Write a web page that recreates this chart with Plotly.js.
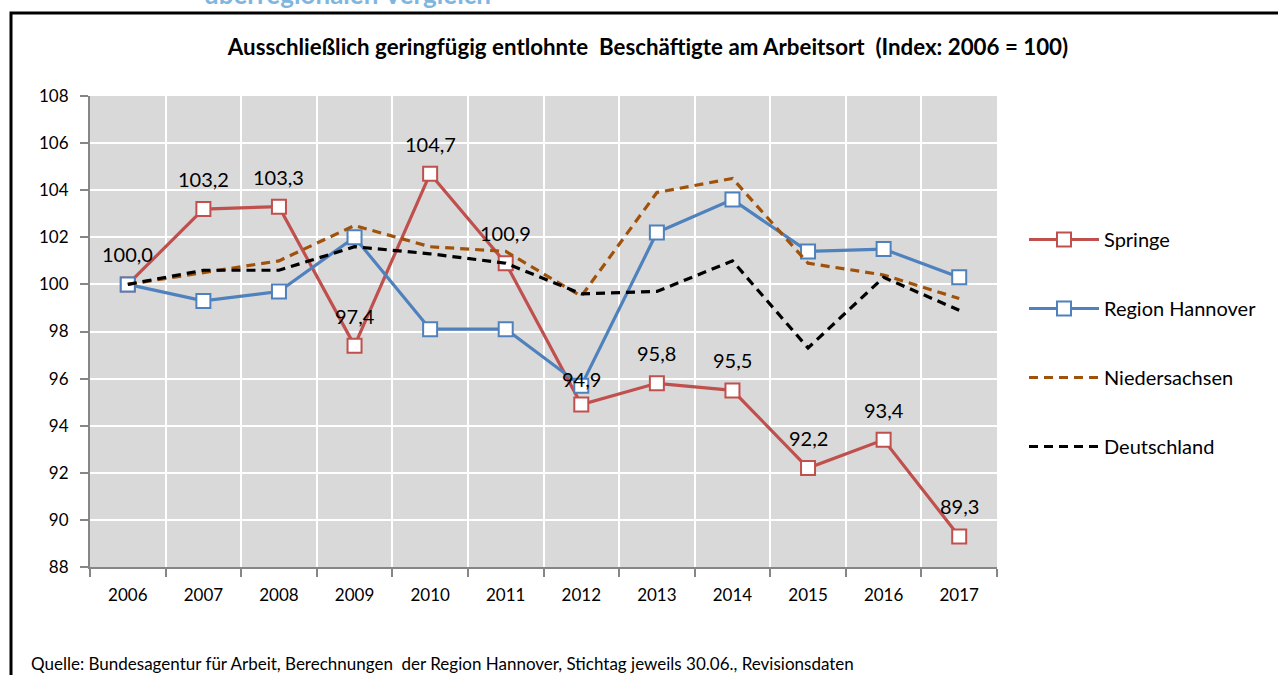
<!DOCTYPE html>
<html>
<head>
<meta charset="utf-8">
<script src="https://cdn.plot.ly/plotly-3.0.1.min.js"></script>
<style>html,body{margin:0;padding:0;background:#fff;}#chart{width:1278px;height:675px;}</style>
</head>
<body>
<div id="chart"></div>
<script>
// ---- data ----
const years = ["2006","2007","2008","2009","2010","2011","2012","2013","2014","2015","2016","2017"];
const springe = [100.0, 103.2, 103.3, 97.4, 104.7, 100.9, 94.9, 95.8, 95.5, 92.2, 93.4, 89.3];
const regionHannover = [100.0, 99.3, 99.7, 102.0, 98.1, 98.1, 95.7, 102.2, 103.6, 101.4, 101.5, 100.3];
const niedersachsen = [100.0, 100.5, 101.0, 102.5, 101.6, 101.4, 99.5, 103.9, 104.5, 100.9, 100.4, 99.4];
const deutschland = [100.0, 100.6, 100.6, 101.6, 101.3, 100.9, 99.6, 99.7, 101.0, 97.3, 100.3, 98.9];
const seriesNames = ["Springe", "Region Hannover", "Niedersachsen", "Deutschland"];
const titleText = "Ausschließlich geringfügig entlohnte  Beschäftigte am Arbeitsort  (Index: 2006 = 100)";
const sourceText = "Quelle: Bundesagentur für Arbeit, Berechnungen  der Region Hannover, Stichtag jeweils 30.06., Revisionsdaten";
const topCutText = "überregionalen Vergleich";

// ---- layout helpers ----
const W = 1278, H = 675;
const L = 90, R = 997, T = 96, B = 567;
const pw = R - L, ph = B - T;
const px = x => (x - L) / pw;
const py = y => (B - y) / ph;
const FONT = "Lato, 'Open Sans', sans-serif";

const fmt = v => v.toFixed(1).replace(".", ",");

function lineTrace(name, y, color, dash, markers, group) {
  const t = {
    type: "scatter",
    mode: markers ? "lines+markers" : "lines",
    name: name,
    x: years,
    y: y,
    legendgroup: group,
    line: {color: color, width: 3.2, dash: dash},
    hoverinfo: "x+y"
  };
  if (markers) {
    t.marker = {symbol: "square", size: 14, color: "#ffffff", line: {color: color, width: 2}};
  }
  return t;
}

const traces = [
  lineTrace(seriesNames[0], springe, "#c0504d", "solid", true, "g1"),
  lineTrace(seriesNames[1], regionHannover, "#4f81bd", "solid", true, "g2"),
  lineTrace(seriesNames[2], niedersachsen, "#a0520a", "9px,6px", false, "g3"),
  lineTrace(seriesNames[3], deutschland, "#000000", "9px,6px", false, "g4")
];

// data labels for Springe, positioned by the category index on the x axis
const labelAnnotations = springe.map((v, i) => ({
  x: i, y: v, xref: "x", yref: "y",
  text: fmt(v), showarrow: false,
  xanchor: "center", yanchor: "middle",
  yshift: (i === 6 ? 26 : 30),
  font: {family: FONT, size: 20, color: "#000"}
}));

const layout = {
  width: W, height: H,
  margin: {l: L, r: W - R, t: T, b: H - B, pad: 0},
  paper_bgcolor: "#ffffff",
  plot_bgcolor: "#d9d9d9",
  font: {family: FONT, size: 17, color: "#000"},
  showlegend: true,
  title: {
    text: "<b>" + titleText + "</b>",
    font: {family: FONT, size: 22.3, color: "#000"},
    xref: "paper", x: px(648), xanchor: "center",
    yref: "container", y: 1 - 47 / H, yanchor: "middle"
  },
  xaxis: {
    type: "category",
    range: [-0.5, 11.5],
    tickson: "boundaries",
    showgrid: true, gridcolor: "#ffffff", gridwidth: 2,
    showline: true, linecolor: "#868686", linewidth: 2,
    ticks: "outside", ticklen: 8, tickcolor: "#868686", tickwidth: 2,
    ticklabelstandoff: 12,
    tickfont: {family: FONT, size: 17, color: "#000"},
    zeroline: false, fixedrange: true
  },
  yaxis: {
    range: [88, 108],
    tickmode: "linear", tick0: 88, dtick: 2,
    showgrid: true, gridcolor: "#ffffff", gridwidth: 2,
    showline: true, linecolor: "#868686", linewidth: 2,
    ticks: "outside", ticklen: 8, tickcolor: "#868686", tickwidth: 2,
    ticklabelstandoff: 8,
    tickfont: {family: FONT, size: 17, color: "#000"},
    zeroline: false, fixedrange: true
  },
  legend: {
    x: px(1024), xanchor: "left",
    y: py(220), yanchor: "top",
    bgcolor: "rgba(0,0,0,0)",
    font: {family: FONT, size: 20, color: "#000"},
    tracegroupgap: 40,
    itemwidth: 70,
    traceorder: "grouped"
  },
  shapes: [
    {type: "rect", xref: "paper", yref: "paper",
     x0: px(11), x1: px(1300), y0: py(700), y1: py(13),
     line: {color: "#000", width: 3}, fillcolor: "rgba(0,0,0,0)", layer: "below"}
  ],
  annotations: labelAnnotations.concat([
    {xref: "paper", yref: "paper", x: px(29), y: py(663), xanchor: "left", yanchor: "middle",
     text: sourceText, showarrow: false, font: {family: FONT, size: 17, color: "#000"}},
    {xref: "paper", yref: "paper", x: px(347), y: py(-6), xanchor: "center", yanchor: "middle",
     text: "<b>" + topCutText + "</b>", showarrow: false, font: {family: FONT, size: 26, color: "#7fb6e0"}}
  ])
};

Plotly.newPlot("chart", traces, layout, {displayModeBar: false, staticPlot: true});
</script>
</body>
</html>
